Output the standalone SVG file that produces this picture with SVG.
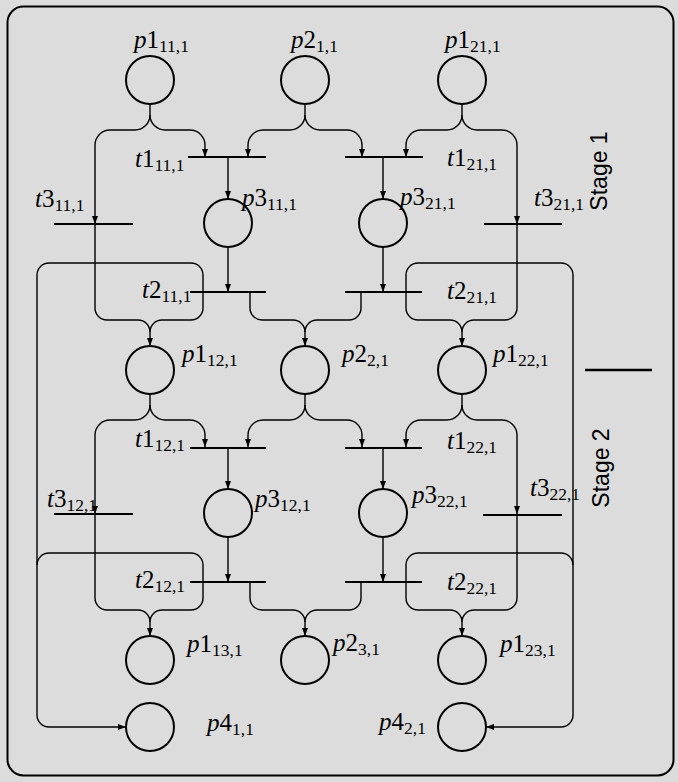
<svg xmlns="http://www.w3.org/2000/svg" width="678" height="782" viewBox="0 0 678 782">
<style>
.pl{fill:none;stroke:#000;stroke-width:2}
.tr{stroke:#000;stroke-width:2.2}
.tr3{stroke:#000;stroke-width:1.8}
.arc{fill:none;stroke:#000;stroke-width:1.4}
.arr{marker-end:url(#ah)}
.lbl{font-family:"Liberation Serif","Times New Roman",serif;font-size:25px;fill:#000}
.i{font-style:italic}
.sub{font-size:17.5px}
.stage{font-family:"Liberation Sans",Arial,sans-serif;font-size:23px;fill:#000}
</style>
<defs>
<marker id="ah" markerUnits="userSpaceOnUse" markerWidth="9" markerHeight="6" refX="8" refY="3" orient="auto">
<path d="M0,0 L8,3 L0,6 z" fill="#000"/>
</marker>
</defs>
<rect x="0" y="0" width="678" height="782" fill="#dcdcdc"/>
<rect id="frame" x="7.5" y="6.5" width="666" height="769" rx="16" fill="none" stroke="#000" stroke-width="2"/>

<g id="connectors">
<!-- Stage 1 (Y=80) -->
<path class="arc arr" d="M150,104 V115 A15,15 0 0 0 165,130 H190 A15,15 0 0 1 205,145 V157"/>
<path class="arc arr" d="M150,115 A15,15 0 0 1 135,130 H110 A15,15 0 0 0 95,145 V224"/>
<path class="arc arr" d="M305,104 V115 A15,15 0 0 1 290,130 H263 A15,15 0 0 0 248,145 V157"/>
<path class="arc arr" d="M305,115 A15,15 0 0 0 320,130 H347 A15,15 0 0 1 362,145 V157"/>
<path class="arc arr" d="M462,104 V115 A15,15 0 0 1 447,130 H421 A15,15 0 0 0 406,145 V157"/>
<path class="arc arr" d="M462,115 A15,15 0 0 0 477,130 H502 A15,15 0 0 1 517,145 V224"/>
<path class="arc arr" d="M228,157 V199"/>
<path class="arc arr" d="M383,157 V199"/>
<path class="arc arr" d="M228,247 V292"/>
<path class="arc arr" d="M383,247 V292"/>
<path class="arc arr" d="M95,224 V308 A12,12 0 0 0 107,320 H138 A12,12 0 0 1 150,332 V346"/>
<path class="arc" d="M203,292 V308 A12,12 0 0 1 191,320 H162 A12,12 0 0 0 150,332"/>
<path class="arc arr" d="M203,292 V275 A12,12 0 0 0 191,263 H49 A12,12 0 0 0 37,275 V715 A12,12 0 0 0 49,727 H126"/>
<path class="arc arr" d="M250,292 V308 A12,12 0 0 0 262,320 H293 A12,12 0 0 1 305,332 V346"/>
<path class="arc" d="M361,292 V308 A12,12 0 0 1 349,320 H317 A12,12 0 0 0 305,332"/>
<path class="arc arr" d="M406,292 V308 A12,12 0 0 0 418,320 H450 A12,12 0 0 1 462,332 V346"/>
<path class="arc" d="M517,224 V308 A12,12 0 0 1 505,320 H474 A12,12 0 0 0 462,332"/>
<path class="arc arr" d="M406,292 V275 A12,12 0 0 1 418,263 H561 A12,12 0 0 1 573,275 V715 A12,12 0 0 1 561,727 H486"/>
<!-- Stage 2 (Y=370) -->
<path class="arc arr" d="M150,394 V405 A15,15 0 0 0 165,420 H190 A15,15 0 0 1 205,435 V447"/>
<path class="arc arr" d="M150,405 A15,15 0 0 1 135,420 H110 A15,15 0 0 0 95,435 V514"/>
<path class="arc arr" d="M305,394 V405 A15,15 0 0 1 290,420 H263 A15,15 0 0 0 248,435 V447"/>
<path class="arc arr" d="M305,405 A15,15 0 0 0 320,420 H347 A15,15 0 0 1 362,435 V447"/>
<path class="arc arr" d="M462,394 V405 A15,15 0 0 1 447,420 H421 A15,15 0 0 0 406,435 V447"/>
<path class="arc arr" d="M462,405 A15,15 0 0 0 477,420 H502 A15,15 0 0 1 517,435 V514"/>
<path class="arc arr" d="M228,447 V489"/>
<path class="arc arr" d="M383,447 V489"/>
<path class="arc arr" d="M228,537 V582"/>
<path class="arc arr" d="M383,537 V582"/>
<path class="arc arr" d="M95,514 V598 A12,12 0 0 0 107,610 H138 A12,12 0 0 1 150,622 V636"/>
<path class="arc" d="M203,582 V598 A12,12 0 0 1 191,610 H162 A12,12 0 0 0 150,622"/>
<path class="arc" d="M203,582 V565 A12,12 0 0 0 191,553 H49 A12,12 0 0 0 37,565"/>
<path class="arc arr" d="M250,582 V598 A12,12 0 0 0 262,610 H293 A12,12 0 0 1 305,622 V636"/>
<path class="arc" d="M361,582 V598 A12,12 0 0 1 349,610 H317 A12,12 0 0 0 305,622"/>
<path class="arc arr" d="M406,582 V598 A12,12 0 0 0 418,610 H450 A12,12 0 0 1 462,622 V636"/>
<path class="arc" d="M517,514 V598 A12,12 0 0 1 505,610 H474 A12,12 0 0 0 462,622"/>
<path class="arc" d="M406,582 V565 A12,12 0 0 1 418,553 H561 A12,12 0 0 1 573,565"/>
</g>

<!-- Places -->
<g id="p1_11"><circle class="pl" cx="150" cy="80" r="24"/><text class="lbl" x="134" y="48"><tspan class="i">p</tspan>1<tspan class="sub" dy="4">11,1</tspan></text></g>
<g id="p2_1"><circle class="pl" cx="305" cy="80" r="24"/><text class="lbl" x="291" y="48"><tspan class="i">p</tspan>2<tspan class="sub" dy="4">1,1</tspan></text></g>
<g id="p1_21"><circle class="pl" cx="462" cy="80" r="24"/><text class="lbl" x="445" y="48"><tspan class="i">p</tspan>1<tspan class="sub" dy="4">21,1</tspan></text></g>
<g id="p3_11"><circle class="pl" cx="228" cy="223" r="24"/><text class="lbl" x="242" y="206"><tspan class="i">p</tspan>3<tspan class="sub" dy="4">11,1</tspan></text></g>
<g id="p3_21"><circle class="pl" cx="383" cy="223" r="24"/><text class="lbl" x="400" y="205"><tspan class="i">p</tspan>3<tspan class="sub" dy="4">21,1</tspan></text></g>
<g id="p1_12"><circle class="pl" cx="150" cy="370" r="24"/><text class="lbl" x="182" y="362"><tspan class="i">p</tspan>1<tspan class="sub" dy="4">12,1</tspan></text></g>
<g id="p2_2"><circle class="pl" cx="305" cy="370" r="24"/><text class="lbl" x="342" y="362"><tspan class="i">p</tspan>2<tspan class="sub" dy="4">2,1</tspan></text></g>
<g id="p1_22"><circle class="pl" cx="462" cy="370" r="24"/><text class="lbl" x="493" y="362"><tspan class="i">p</tspan>1<tspan class="sub" dy="4">22,1</tspan></text></g>
<g id="p3_12"><circle class="pl" cx="228" cy="513" r="24"/><text class="lbl" x="255" y="507"><tspan class="i">p</tspan>3<tspan class="sub" dy="4">12,1</tspan></text></g>
<g id="p3_22"><circle class="pl" cx="383" cy="513" r="24"/><text class="lbl" x="412" y="503"><tspan class="i">p</tspan>3<tspan class="sub" dy="4">22,1</tspan></text></g>
<g id="p1_13"><circle class="pl" cx="150" cy="660" r="24"/><text class="lbl" x="187" y="652"><tspan class="i">p</tspan>1<tspan class="sub" dy="4">13,1</tspan></text></g>
<g id="p2_3"><circle class="pl" cx="305" cy="660" r="24"/><text class="lbl" x="333" y="651"><tspan class="i">p</tspan>2<tspan class="sub" dy="4">3,1</tspan></text></g>
<g id="p1_23"><circle class="pl" cx="462" cy="660" r="24"/><text class="lbl" x="500" y="652"><tspan class="i">p</tspan>1<tspan class="sub" dy="4">23,1</tspan></text></g>
<g id="p4_1"><circle class="pl" cx="150" cy="727" r="24"/><text class="lbl" x="207" y="731"><tspan class="i">p</tspan>4<tspan class="sub" dy="4">1,1</tspan></text></g>
<g id="p4_2"><circle class="pl" cx="462" cy="727" r="24"/><text class="lbl" x="379" y="730"><tspan class="i">p</tspan>4<tspan class="sub" dy="4">2,1</tspan></text></g>

<!-- Transitions -->
<g id="t1_11"><line class="tr" x1="188" y1="157" x2="266" y2="157"/><text class="lbl" x="135" y="167"><tspan class="i">t</tspan>1<tspan class="sub" dy="4">11,1</tspan></text></g>
<g id="t1_21"><line class="tr" x1="345" y1="157" x2="423" y2="157"/><text class="lbl" x="447" y="166"><tspan class="i">t</tspan>1<tspan class="sub" dy="4">21,1</tspan></text></g>
<g id="t3_11"><line class="tr3" x1="54" y1="224" x2="133" y2="224"/><text class="lbl" x="35" y="207"><tspan class="i">t</tspan>3<tspan class="sub" dy="4">11,1</tspan></text></g>
<g id="t3_21"><line class="tr3" x1="484" y1="224" x2="562" y2="224"/><text class="lbl" x="534" y="206"><tspan class="i">t</tspan>3<tspan class="sub" dy="4">21,1</tspan></text></g>
<g id="t2_11"><line class="tr" x1="190" y1="292" x2="266" y2="292"/><text class="lbl" x="142" y="298"><tspan class="i">t</tspan>2<tspan class="sub" dy="4">11,1</tspan></text></g>
<g id="t2_21"><line class="tr" x1="345" y1="292" x2="422" y2="292"/><text class="lbl" x="447" y="299"><tspan class="i">t</tspan>2<tspan class="sub" dy="4">21,1</tspan></text></g>
<g id="t1_12"><line class="tr" x1="190" y1="448" x2="266" y2="448"/><text class="lbl" x="135" y="447"><tspan class="i">t</tspan>1<tspan class="sub" dy="4">12,1</tspan></text></g>
<g id="t1_22"><line class="tr" x1="345" y1="448" x2="422" y2="448"/><text class="lbl" x="447" y="449"><tspan class="i">t</tspan>1<tspan class="sub" dy="4">22,1</tspan></text></g>
<g id="t3_12"><line class="tr3" x1="54" y1="514" x2="133" y2="514"/><text class="lbl" x="47" y="507"><tspan class="i">t</tspan>3<tspan class="sub" dy="4">12,1</tspan></text></g>
<g id="t3_22"><line class="tr3" x1="483" y1="515" x2="562" y2="515"/><text class="lbl" x="530" y="496"><tspan class="i">t</tspan>3<tspan class="sub" dy="4">22,1</tspan></text></g>
<g id="t2_12"><line class="tr" x1="190" y1="582" x2="266" y2="582"/><text class="lbl" x="135" y="588"><tspan class="i">t</tspan>2<tspan class="sub" dy="4">12,1</tspan></text></g>
<g id="t2_22"><line class="tr" x1="345" y1="582" x2="422" y2="582"/><text class="lbl" x="447" y="590"><tspan class="i">t</tspan>2<tspan class="sub" dy="4">22,1</tspan></text></g>

<!-- Stage labels -->
<text class="stage" transform="translate(607,171) rotate(-90)" text-anchor="middle">Stage 1</text>
<line x1="585" y1="370" x2="652" y2="370" stroke="#000" stroke-width="2.5"/>
<text class="stage" transform="translate(609,468) rotate(-90)" text-anchor="middle">Stage 2</text>
</svg>
